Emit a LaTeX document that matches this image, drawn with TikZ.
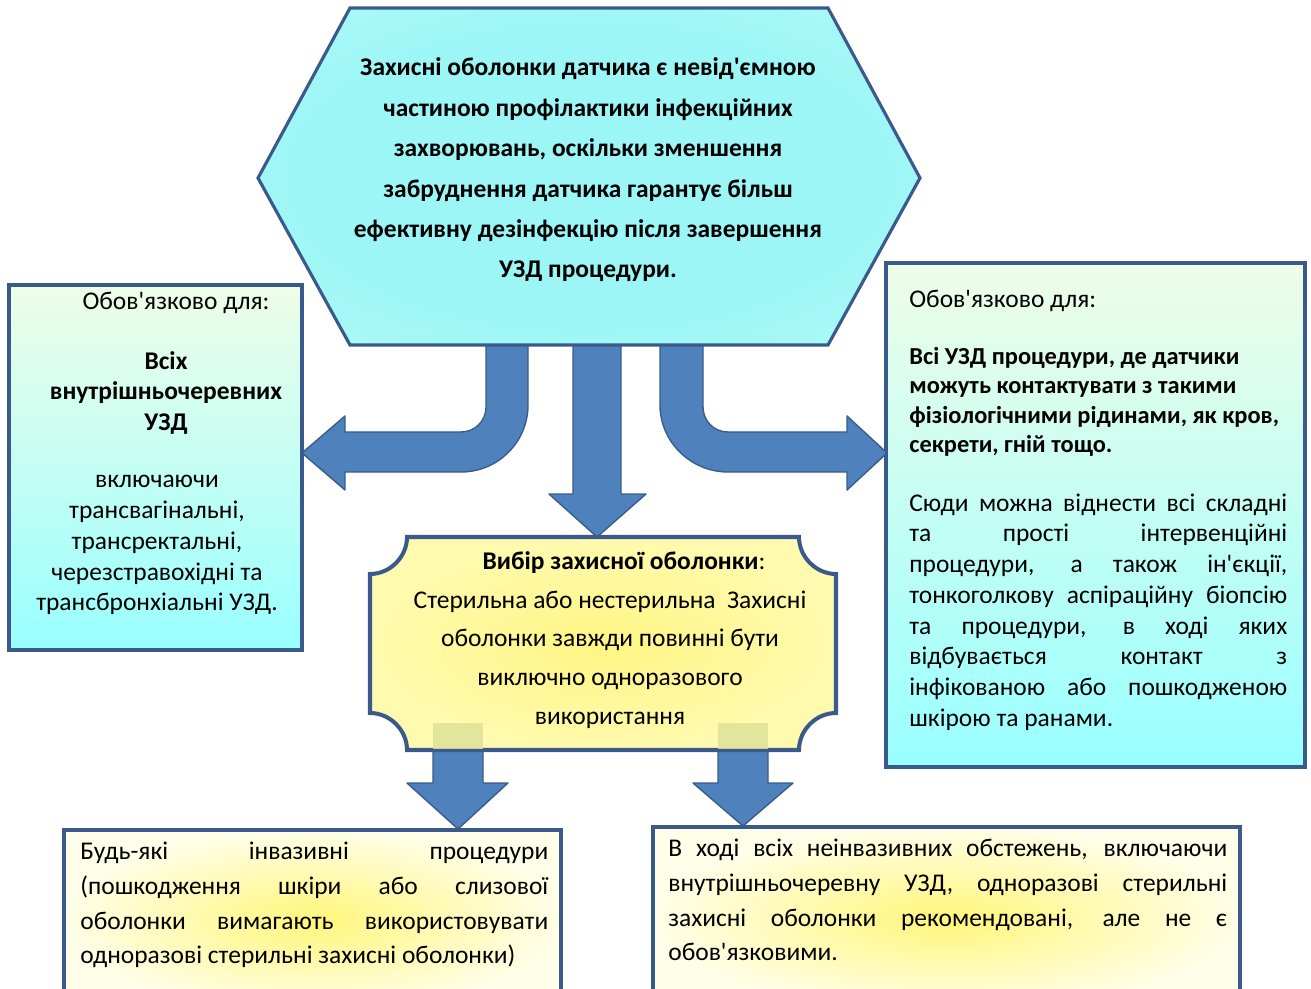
\documentclass[tikz,border=0pt]{standalone}
\usepackage{fontspec}
\setmainfont{Carlito}[Ligatures=TeXOff]
\usepackage{tikz}
\usetikzlibrary{calc}
\definecolor{frameblue}{HTML}{3B5A8C}
\definecolor{arrowfill}{HTML}{4F81BD}
\definecolor{arrowline}{HTML}{385D8A}
\definecolor{fadeshaft}{HTML}{DCE39A}
\definecolor{hexin}{HTML}{9CF6F6}
\definecolor{hexmid}{HTML}{B4FAF8}
\definecolor{hexout}{HTML}{DAFEF8}
\definecolor{sidetop}{HTML}{EEFDE8}
\definecolor{sidebot}{HTML}{99FFFF}
\definecolor{plaquein}{HTML}{FFF584}
\definecolor{plaqueout}{HTML}{FFFAAE}
\definecolor{lowin}{HTML}{FFF67A}
\definecolor{lowout}{HTML}{FFFEE8}
\pgfdeclareradialshading{hexshade}{\pgfpoint{0bp}{0bp}}{color(0bp)=(hexin); color(22bp)=(hexin); color(38bp)=(hexmid); color(50bp)=(hexout)}
\tikzset{
  boxframe/.style={draw=frameblue, line width=2.3pt},
  sidebox/.style={boxframe, top color=sidetop, bottom color=sidebot},
  lowbox/.style={boxframe, inner color=lowin, outer color=lowout},
  hexbox/.style={draw=frameblue, line width=1.8pt, shade, shading=hexshade},
  plaque/.style={boxframe, inner color=plaquein, outer color=plaqueout},
  blockarrow/.style={draw=arrowline, fill=arrowfill, line width=0.8pt, line join=round},
  txt/.style={inner sep=0pt, font=\fontsize{14.5}{17.6}\selectfont},
  boldtxt/.style={inner sep=0pt, font=\bfseries\fontsize{14.5}{17.6}\selectfont},
}

\begin{document}
\begin{tikzpicture}[x=0.02cm, y=-0.02cm]
	%%%%% START %%%%%
	\useasboundingbox (0,0) rectangle (1311,989);
	\clip (0,0) rectangle (1311,989);
	
	% side boxes
	\draw[sidebox] (9,285) rectangle (302,650);
	\draw[sidebox] (886,263) rectangle (1305,767);
	
	% lower boxes
	\draw[lowbox] (64,830) rectangle (561,1010);
	\draw[lowbox] (653,827) rectangle (1240,1010);
	
	% arrows out of the hexagon
	\draw[blockarrow] (486,340) -- (486,407) .. controls (486,421) and (475,432) .. (461,432)
		-- (345,432) -- (345,416) -- (302,453) -- (345,490) -- (345,472) -- (461,472)
		.. controls (498,472) and (528,442) .. (528,405) -- (528,340) -- cycle;
	\draw[blockarrow] (703,340) -- (703,407) .. controls (703,421) and (714,432) .. (728,432)
		-- (847,432) -- (847,416) -- (887,453) -- (847,490) -- (847,472) -- (728,472)
		.. controls (691,472) and (660,442) .. (660,405) -- (660,340) -- cycle;
	\draw[blockarrow] (573,340) -- (573,494) -- (549,494) -- (597,537) -- (646,494) -- (621,494) -- (621,340) -- cycle;
	
	\draw[hexbox] (350,8) -- (828,8) -- (920,178) -- (828,345) -- (350,345) -- (258,178) -- cycle;
	
	% arrows under the plaque
	\draw[blockarrow] (433,745) -- (433,783) -- (407,783) -- (458,829) -- (508,783) -- (483,783) -- (483,745) -- cycle;
	\draw[blockarrow] (718,745) -- (718,783) -- (693,783) -- (743,826) -- (793,783) -- (768,783) -- (768,745) -- cycle;
	
	\draw[plaque] (407,537) -- (799,537) .. controls (799,557) and (816,574) .. (836,574)
		-- (836,713) .. controls (816,713) and (799,730) .. (799,750)
		-- (407,750) .. controls (407,730) and (390,713) .. (370,713)
		-- (370,574) .. controls (390,574) and (407,557) .. (407,537) -- cycle;
	\fill[fadeshaft, opacity=0.85] (433,723) rectangle (483,749);
	\fill[fadeshaft, opacity=0.85] (718,723) rectangle (768,749);
	
	% texts
	\node[boldtxt, align=center, font=\bfseries\fontsize{14.5}{23}\selectfont] (hextext) at (588,170)
		{Захисні оболонки датчика є невід'ємною\\ частиною профілактики інфекційних\\ захворювань, оскільки зменшення\\ забруднення датчика гарантує більш\\ ефективну дезінфекцію після завершення\\ УЗД процедури.};
	
	\node[txt] (lhead) at (176,303) {Обов'язково для:};
	\node[boldtxt, align=center] (lbold) at (166,393) {Всіх\\ внутрішньочеревних\\ УЗД};
	\node[txt, align=center] (lbody) at (157,545)
		{включаючи\\ трансвагінальні,\\ трансректальні,\\ черезстравохідні та\\ трансбронхіальні УЗД.};
	
	\node[txt, anchor=west] (rhead) at (909,301) {Обов'язково для:};
	\node[boldtxt, align=left, anchor=west, font=\bfseries\fontsize{13.9}{16.8}\selectfont] (rbold) at (909,402)
		{Всі УЗД процедури, де датчики\\ можуть контактувати з такими\\ фізіологічними рідинами, як кров,\\ секрети, гній тощо.};
	\node[txt, align=justify, anchor=west, text width=7.56cm, font=\fontsize{14.5}{17.5}\selectfont] (rbody) at (909,612)
		{Сюди можна віднести всі складні\linebreak та прості інтервенційні\linebreak процедури, а також ін'єкції,\linebreak
		тонкоголкову аспіраційну біопсію\linebreak та процедури, в ході яких\linebreak відбувається контакт з\linebreak
		інфікованою або пошкодженою\linebreak шкірою та ранами.};
	
	\node[txt, align=center, font=\fontsize{14.5}{22}\selectfont] (plaquetext) at (610,640)
		{\hspace*{1.1em}\textbf{Вибір захисної оболонки}:\\ Стерильна або нестерильна\ \ Захисні\\ оболонки завжди повинні бути\\ виключно одноразового\\ використання};
	
	\node[txt, align=justify, anchor=west, text width=9.36cm, font=\fontsize{14.5}{19.8}\selectfont] (lowltext) at (80,905)
		{Будь-які інвазивні процедури\linebreak (пошкодження шкіри або слизової\linebreak оболонки вимагають використовувати\linebreak одноразові стерильні захисні оболонки)};
	\node[txt, align=justify, anchor=west, text width=11.18cm, font=\fontsize{14.5}{19.8}\selectfont] (lowrtext) at (668,900)
		{В ході всіх неінвазивних обстежень, включаючи\linebreak внутрішньочеревну УЗД, одноразові стерильні\linebreak захисні оболонки рекомендовані, але не є\linebreak обов'язковими.};
	
	%%%%% END %%%%%
\end{tikzpicture}
\end{document}
